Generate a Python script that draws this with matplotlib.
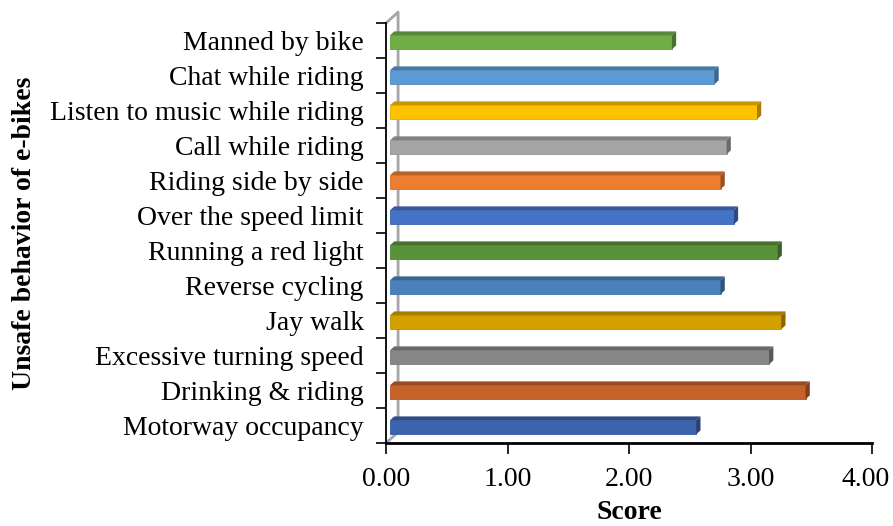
import matplotlib
matplotlib.use("Agg")
import matplotlib.pyplot as plt
from matplotlib.patches import Polygon
from matplotlib.colors import to_rgb
from matplotlib.transforms import offset_copy

plt.rcParams['font.family'] = ['Liberation Serif', 'DejaVu Serif']

# behaviours, bottom to top
behaviors = ["Motorway occupancy", "Drinking & riding", "Excessive turning speed",
             "Jay walk", "Reverse cycling", "Running a red light",
             "Over the speed limit", "Riding side by side", "Call while riding",
             "Listen to music while riding", "Chat while riding", "Manned by bike"]
scores = [2.52, 3.42, 3.12, 3.22, 2.72, 3.19, 2.83, 2.72, 2.77, 3.02, 2.67, 2.32]
colors = ["#3C64AE", "#C5622A", "#878787", "#D4A000", "#4A80BC", "#5A923A",
          "#4472C4", "#ED7D31", "#A5A5A5", "#FFC000", "#5B9BD5", "#70AD47"]
xticks = [0, 1, 2, 3, 4]


def shade(c, k):
    r, g, b = to_rgb(c)
    return (r * k, g * k, b * k)


fig = plt.figure(figsize=(8.93, 5.26), dpi=100)
ax = fig.add_axes([0.4323, 0.1578, 0.5442, 0.7985])

ypos = list(range(len(behaviors)))
bar_h = 0.40
shift = 0.033      # bars sit a little behind the front plane
dx, dy = 0.035, 0.11   # bar depth
wdx, wdy = 0.099, 0.31  # wall/floor depth

# back wall + floor edge
ax.plot([0, wdx, wdx, 0], [-0.5, -0.5 + wdy, 11.5 + wdy, 11.5],
        color="#A6A6A6", lw=2, clip_on=False, zorder=1)

for y, v, c in zip(ypos, scores, colors):
    yc = y - 0.05
    yb, yt = yc - bar_h / 2, yc + bar_h / 2
    x0, x1 = shift, shift + v
    ax.barh(yc, v, left=x0, height=bar_h, color=c, edgecolor=shade(c, 0.9),
            linewidth=0.6, zorder=3)
    top = Polygon([(x0, yt), (x0 + dx, yt + dy), (x1 + dx, yt + dy), (x1, yt)],
                  closed=True, facecolor=shade(c, 0.78), edgecolor='none', zorder=3)
    side = Polygon([(x1, yb), (x1, yt), (x1 + dx, yt + dy), (x1 + dx, yb + dy)],
                   closed=True, facecolor=shade(c, 0.65), edgecolor='none', zorder=3)
    ax.add_patch(top)
    ax.add_patch(side)

ax.set_xlim(0, 4)
ax.set_ylim(-0.5, 11.5)
ax.set_xticks(xticks)
labels = ['%.2f' % t for t in xticks]
ax.set_xticklabels(labels[:-1] + [''], fontsize=20)
# last label nudged left so it stays inside the figure
trans = offset_copy(ax.get_xaxis_transform(), fig=fig, x=-4.3, y=-17, units='points')
ax.text(xticks[-1], 0, labels[-1], transform=trans, fontsize=20,
        ha='center', va='top', clip_on=False)

ax.set_yticks([y - 0.5 for y in ypos] + [11.5])
ax.set_yticklabels([])
ax.set_yticks(ypos, minor=True)
ax.set_yticklabels(behaviors, minor=True, fontsize=20)
ax.tick_params(axis='y', which='minor', length=0, pad=16)
ax.tick_params(axis='y', which='major', length=7, width=1.2, direction='out')
ax.tick_params(axis='x', length=8, width=1.2, direction='out', pad=9)

for s in ['top', 'right']:
    ax.spines[s].set_visible(False)
ax.spines['left'].set_linewidth(1.3)
ax.spines['bottom'].set_linewidth(2)

ax.set_xlabel("Score", fontsize=20, fontweight='bold', labelpad=6)
fig.text(0.027, 0.557, "Unsafe behavior of e-bikes", rotation=90, fontsize=20,
         fontweight='bold', ha='center', va='center')

fig.savefig("out.png", dpi=100)
